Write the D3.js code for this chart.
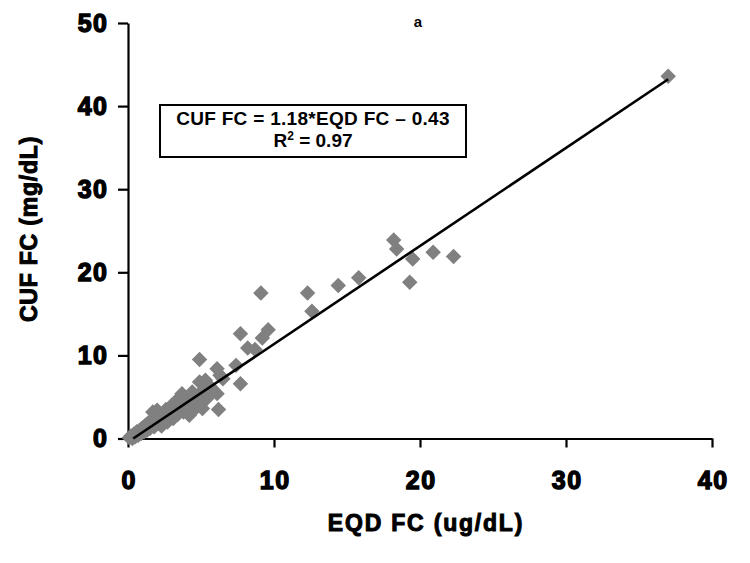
<!DOCTYPE html>
<html>
<head>
<meta charset="utf-8">
<script src="https://cdn.jsdelivr.net/npm/d3@7"></script>
<style>
  body { margin: 0; background: #fff; }
  svg { display: block; font-family: "Liberation Sans", Arial, sans-serif; }
</style>
</head>
<body>
<svg id="chart" width="750" height="563"></svg>
<script>
// ---- data ----
const eqdValues = [
  37.0, 18.2, 18.4, 19.5, 20.9, 22.3, 19.3, 15.8, 14.4, 12.3, 12.6, 9.1, 9.6, 9.2, 7.7, 8.2, 8.7, 7.4, 7.7, 6.1, 4.9, 5.3, 6.1, 6.2,
  0.1, 0.2, 0.3, 0.4, 0.5, 0.6, 0.7, 0.8, 0.9, 1.0, 1.1, 1.2, 1.3, 1.4, 1.5, 1.6, 1.7, 1.8, 1.9, 2.0,
  2.1, 2.2, 2.3, 2.4, 2.5, 2.6, 2.7, 2.8, 2.9, 3.0, 3.1, 3.2, 3.3, 3.4, 3.5, 3.6, 3.7, 3.8, 3.9, 4.0,
  4.1, 4.2, 4.3, 4.4, 4.5, 4.6, 4.7, 4.8, 4.9, 5.0, 5.1, 5.2, 5.4, 5.6, 5.8, 6.3, 6.5
];
const cufValues = [
  43.6, 23.9, 22.8, 21.6, 22.4, 21.9, 18.8, 19.35, 18.4, 17.5, 15.3, 17.5, 13.1, 12.1, 12.6, 10.9, 10.7, 8.8, 6.6, 8.4, 9.5, 7.0, 5.4, 3.5,
  0.1, 0.3, 0.0, 0.5, 0.2, 0.8, 0.4, 1.0, 0.6, 1.3, 0.8, 1.6, 1.0, 1.9, 1.2, 2.0, 3.2, 1.4, 2.4, 3.4,
  1.8, 2.6, 1.5, 3.0, 2.2, 3.5, 2.0, 3.1, 2.6, 4.0, 2.4, 3.3, 4.5, 2.9, 3.8, 5.0, 5.4, 3.2, 4.3, 3.6,
  4.9, 2.8, 4.1, 5.6, 3.4, 4.6, 3.9, 5.2, 6.8, 4.3, 3.6, 5.8, 4.8, 6.3, 5.9, 7.6, 7.2
];
const xTicks = [0, 10, 20, 30, 40];
const yTicks = [0, 10, 20, 30, 40, 50];
const fitSlope = 1.18;
const fitIntercept = -0.43;
const fitRange = [0.36, 37.0];
const equationLines = ["CUF FC = 1.18*EQD FC \u2013 0.43", "R\u00b2 = 0.97"];
const panelLabel = "a";
const xTitle = "EQD FC (ug/dL)";
const yTitle = "CUF FC (mg/dL)";

// ---- chart ----
const svg = d3.select("#chart");
const x = d3.scaleLinear().domain([0, 40]).range([128, 712]);
const y = d3.scaleLinear().domain([0, 50]).range([438.5, 23]);

const tickFont = g => g.selectAll("text")
  .attr("font-size", 25).attr("font-weight", "bold")
  .attr("fill", "#000").attr("stroke", "#000").attr("stroke-width", 1.4)
  .attr("letter-spacing", 1.5)
  .attr("font-family", "'Liberation Sans', Arial, sans-serif");

const yAxis = svg.append("g")
  .attr("transform", `translate(${x(0)},0)`)
  .call(d3.axisLeft(y).tickValues(yTicks).tickSize(10).tickSizeOuter(0).tickPadding(8));
yAxis.call(tickFont);
yAxis.selectAll("text").attr("dx", -1.5);
yAxis.selectAll("path, line").attr("stroke", "#000").attr("stroke-width", 2.2);

const xAxis = svg.append("g")
  .attr("transform", `translate(0,${y(0)})`)
  .call(d3.axisBottom(x).tickValues(xTicks).tickSize(9).tickSizeOuter(0).tickPadding(24));
xAxis.call(tickFont);
xAxis.selectAll("text").attr("dx", 0.75);
xAxis.selectAll("path, line").attr("stroke", "#000").attr("stroke-width", 2.2);

// points
const pts = eqdValues.map((v, i) => ({ x: v, y: cufValues[i] }));
const diamond = d3.symbol().type(d3.symbolSquare).size(120);
svg.append("g").selectAll("path")
  .data(pts)
  .join("path")
  .attr("d", diamond)
  .attr("transform", d => `translate(${x(d.x)},${y(d.y)}) rotate(45)`)
  .attr("fill", "#808080");

// regression line
const fitPts = fitRange.map(v => ({ x: v, y: fitSlope * v + fitIntercept }));
svg.append("path")
  .datum(fitPts)
  .attr("d", d3.line().x(d => x(d.x)).y(d => y(d.y)))
  .attr("fill", "none").attr("stroke", "#000").attr("stroke-width", 2.6);

// equation box
svg.append("rect")
  .attr("x", 160).attr("y", 105).attr("width", 306).attr("height", 52)
  .attr("fill", "#fff").attr("stroke", "#000").attr("stroke-width", 2);
svg.append("text")
  .attr("x", 313).attr("y", 125).attr("text-anchor", "middle")
  .attr("font-size", 19).attr("font-weight", "bold").attr("fill", "#000")
  .attr("letter-spacing", 0.3)
  .text(equationLines[0]);
const l2 = svg.append("text")
  .attr("x", 313).attr("y", 147).attr("text-anchor", "middle")
  .attr("font-size", 19).attr("font-weight", "bold").attr("fill", "#000");
l2.append("tspan").text("R");
l2.append("tspan").attr("font-size", 12).attr("dy", -7).text("2");
l2.append("tspan").attr("dy", 7).text(" = 0.97");

// panel label
svg.append("text")
  .attr("x", 418).attr("y", 27).attr("text-anchor", "middle")
  .attr("font-size", 15).attr("font-weight", "bold").text(panelLabel);

// axis titles
svg.append("text")
  .attr("x", 426).attr("y", 531).attr("text-anchor", "middle")
  .attr("font-size", 23).attr("font-weight", "bold")
  .attr("stroke", "#000").attr("stroke-width", 1).attr("letter-spacing", 1.8)
  .text(xTitle);
svg.append("text")
  .attr("transform", "translate(37,229) rotate(-90)")
  .attr("text-anchor", "middle")
  .attr("font-size", 23).attr("font-weight", "bold")
  .attr("stroke", "#000").attr("stroke-width", 1).attr("letter-spacing", 0.8)
  .text(yTitle);
</script>
</body>
</html>
